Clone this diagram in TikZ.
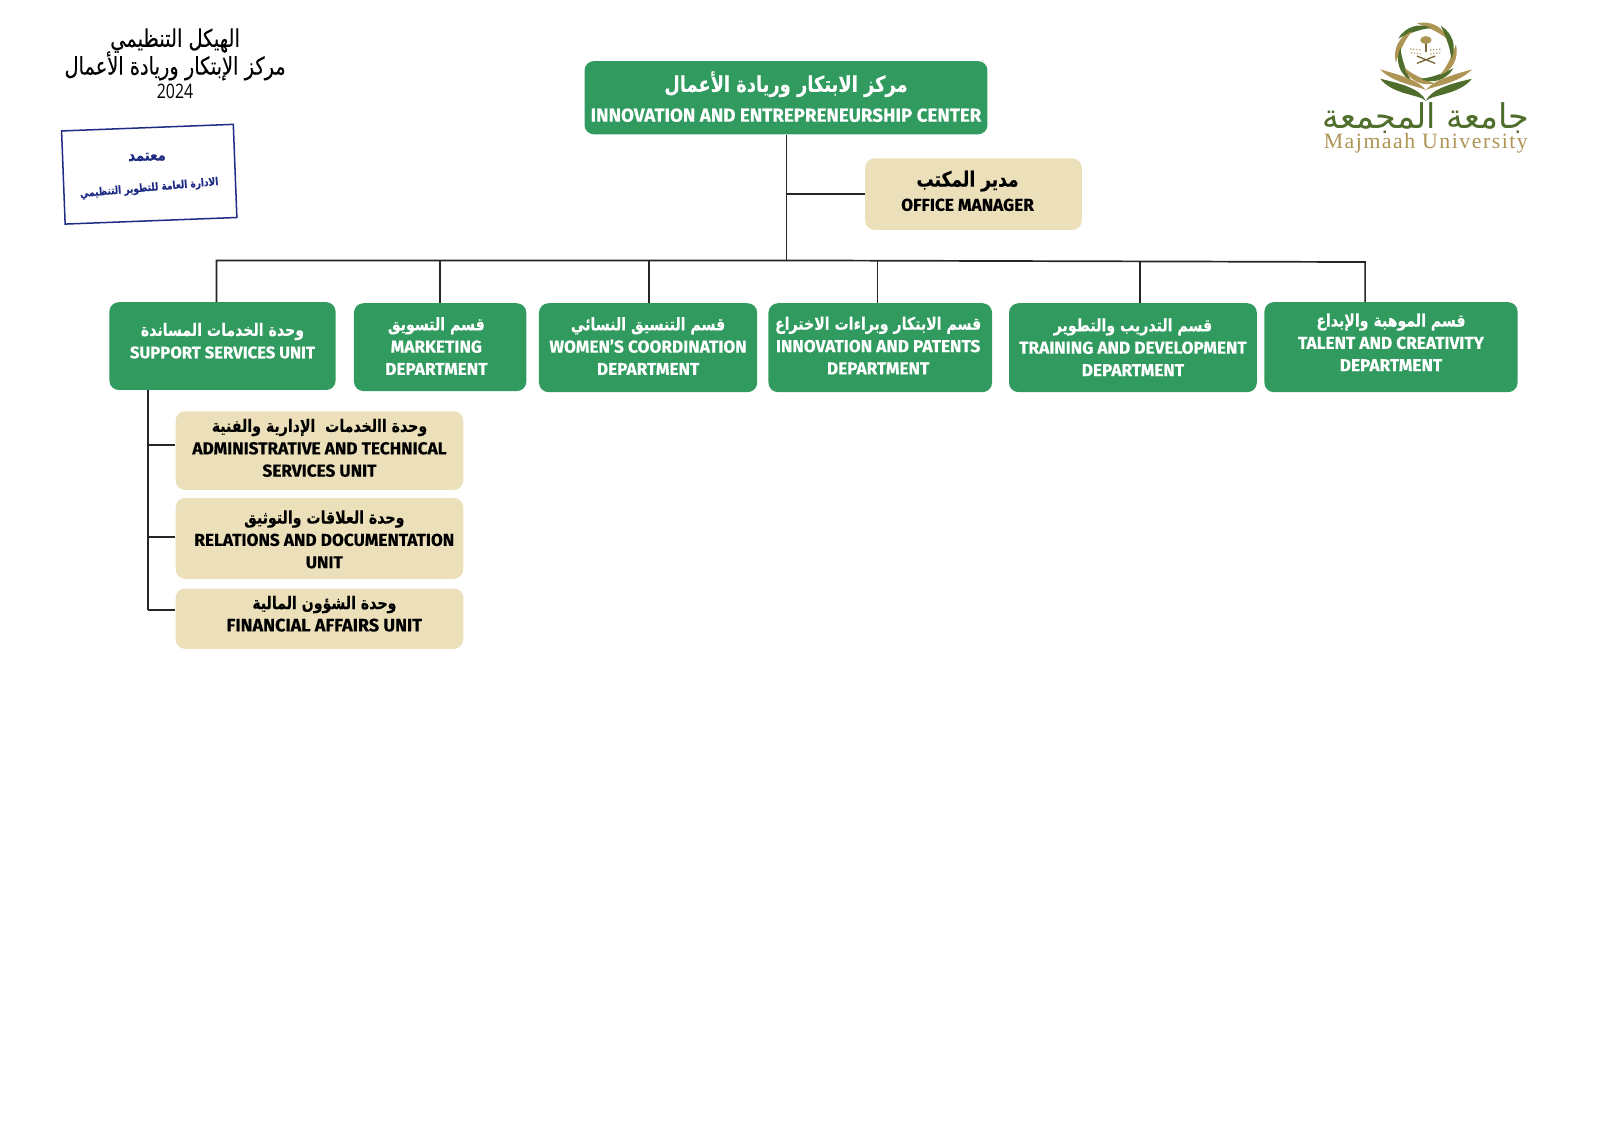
\documentclass[tikz,border=0pt]{standalone}
\usepackage{fontspec}
\usepackage{tikz}
\usetikzlibrary{positioning}
\TeXXeTstate=1
\setmainfont{Fira Sans}[BoldFeatures={FakeBold=0.25}]
\newfontfamily\arabicfont[Script=Arabic,FakeStretch=0.82]{DejaVu Sans}[BoldFeatures={FakeBold=0.2}]
\newfontfamily\arabicthin[Script=Arabic,FakeStretch=0.8,FakeBold=0.15]{DejaVu Sans}
\newfontfamily\logoarabic[Script=Arabic,FakeStretch=0.98]{DejaVu Sans}
\newfontfamily\narrowfont[FakeStretch=0.8]{Open Sans}
\newfontfamily\logoserif[LetterSpace=7]{Liberation Serif}
\newcommand{\ar}[1]{{\arabicfont\bfseries\beginR #1\endR}}
\definecolor{boxgreen}{HTML}{319B5F}
\definecolor{boxsand}{HTML}{EBE0B9}
\definecolor{stampblue}{HTML}{1F2C85}
\definecolor{logogreen}{HTML}{4F6E2C}
\definecolor{logogold}{HTML}{AE9455}
\tikzset{
  greenbox/.style={fill=boxgreen, rounded corners=5pt, inner sep=0pt},
  sandbox/.style={fill=boxsand, rounded corners=5pt, inner sep=0pt},
  greentext/.style={text=white, font=\bfseries\fontsize{9.1}{11.8}\selectfont, align=center, inner sep=0pt},
  sandtext/.style={text=black, font=\bfseries\fontsize{9.1}{11.8}\selectfont, align=center, inner sep=0pt},
  link/.style={line width=0.9pt, draw=black!85},
}
\begin{document}
\begin{tikzpicture}
\useasboundingbox (0,0) rectangle (29.7,20.994);

% title and stamp
\node[align=center, inner sep=0pt] at (3.25,20.24) (title1) {\fontsize{12.8}{14}\selectfont\arabicthin\beginR الهيكل التنظيمي\endR};
\node[align=center, inner sep=0pt] at (3.25,19.77) (title2) {\fontsize{12.8}{14}\selectfont\arabicthin\beginR مركز الإبتكار وريادة الأعمال\endR};
\node[align=center, inner sep=0pt] at (3.25,19.29) (title3) {\fontsize{10.5}{12}\selectfont\narrowfont 2024};

\node[draw=stampblue, line width=0.8pt, rotate=2.2, minimum width=3.19cm, minimum height=1.73cm, inner sep=0pt] at (2.77,17.76) (stamp) {};
\node[text=stampblue, rotate=1, inner sep=0pt] at (2.73,18.08) (stamp1) {\fontsize{8.5}{9}\selectfont\ar{معتمد}};
\node[text=stampblue, rotate=5, inner sep=0pt] at (2.77,17.50) (stamp2) {\fontsize{5.8}{6}\selectfont\ar{الادارة العامة للتطوير التنظيمي}};

% boxes
\node[greenbox, minimum width=7.48cm, minimum height=1.36cm] at (14.59,19.18) (center) {};
\node[sandbox, minimum width=4.02cm, minimum height=1.33cm] at (18.07,17.39) (office) {};
\node[greenbox, minimum width=4.20cm, minimum height=1.63cm] at (4.13,14.57) (support) {};
\node[greenbox, minimum width=3.20cm, minimum height=1.63cm] at (8.17,14.55) (marketing) {};
\node[greenbox, minimum width=4.05cm, minimum height=1.65cm] at (12.03,14.54) (women) {};
\node[greenbox, minimum width=4.15cm, minimum height=1.65cm] at (16.34,14.54) (patents) {};
\node[greenbox, minimum width=4.60cm, minimum height=1.65cm] at (21.03,14.54) (training) {};
\node[greenbox, minimum width=4.70cm, minimum height=1.67cm] at (25.82,14.55) (talent) {};
\node[sandbox, minimum width=5.34cm, minimum height=1.46cm] at (5.93,12.63) (admin) {};
\node[sandbox, minimum width=5.34cm, minimum height=1.50cm] at (5.93,11.00) (relations) {};
\node[sandbox, minimum width=5.34cm, minimum height=1.12cm] at (5.93,9.51) (financial) {};

% box texts
\node[greentext] at (14.59,19.20) (centertext) {\fontsize{11.5}{16}\selectfont\ar{مركز الابتكار وريادة الأعمال}\\[4pt]\fontsize{9.9}{12}\selectfont INNOVATION AND ENTREPRENEURSHIP CENTER};
\node[sandtext] at (17.96,17.45) (officetext) {\fontsize{11}{14}\selectfont\ar{مدير المكتب}\\[1pt]\fontsize{9.1}{12}\selectfont OFFICE MANAGER};
\node[greentext] at (4.13,14.67) (supporttext) {\ar{وحدة الخدمات المساندة}\\\fontsize{8.8}{11.8}\selectfont SUPPORT SERVICES UNIT};
\node[greentext] at (8.10,14.57) (marketingtext) {\ar{قسم التسويق}\\MARKETING\\DEPARTMENT};
\node[greentext] at (12.03,14.57) (womentext) {\ar{قسم التنسيق النسائي}\\WOMEN'S COORDINATION\\DEPARTMENT};
\node[greentext] at (16.30,14.58) (patentstext) {\ar{قسم الابتكار وبراءات الاختراع}\\INNOVATION AND PATENTS\\DEPARTMENT};
\node[greentext] at (21.03,14.55) (trainingtext) {\ar{قسم التدريب والتطوير}\\TRAINING AND DEVELOPMENT\\DEPARTMENT};
\node[greentext] at (25.82,14.64) (talenttext) {\ar{قسم الموهبة والإبداع}\\TALENT AND CREATIVITY\\DEPARTMENT};
\node[sandtext] at (5.93,12.68) (admintext) {\ar{وحدة االخدمات~ الإدارية والفنية}\\ADMINISTRATIVE AND TECHNICAL\\SERVICES UNIT};
\node[sandtext] at (6.02,10.98) (relationstext) {\ar{وحدة العلاقات والتوثيق}\\RELATIONS AND DOCUMENTATION\\UNIT};
\node[sandtext] at (6.02,9.60) (financialtext) {\ar{وحدة الشؤون المالية}\\\fontsize{9.5}{11.8}\selectfont FINANCIAL AFFAIRS UNIT};

% connectors
\coordinate (busleft) at (4.02,16.16);
\coordinate (busmid) at (14.60,16.16);
\coordinate (busright) at (25.34,16.13);
\coordinate (dropmarketing) at (8.17,16.15);
\coordinate (dropwomen) at (12.05,16.15);
\coordinate (droppatents) at (16.29,16.15);
\coordinate (droptraining) at (21.16,16.15);
\coordinate (subtop) at (2.75,13.76);
\coordinate (subadmin) at (2.75,12.74);
\coordinate (subrelations) at (2.75,11.03);
\coordinate (subfinancial) at (2.75,9.67);

\draw[link] (center.south -| busmid) -- (busmid);
\draw[link] (busmid |- office) -- (office.west);
\draw[link] (support.north -| busleft) -- (busleft) -- (busmid) -- (busright) -- (talent.north -| busright);
\draw[link] (dropmarketing) -- (dropmarketing |- marketing.north);
\draw[link] (dropwomen) -- (dropwomen |- women.north);
\draw[link] (droppatents) -- (droppatents |- patents.north);
\draw[link] (droptraining) -- (droptraining |- training.north);
\draw[link] (subtop) -- (subfinancial);
\draw[link] (subadmin) -- (subadmin -| admin.west);
\draw[link] (subrelations) -- (subrelations -| relations.west);
\draw[link] (subfinancial) -- (subfinancial -| financial.west);

% logo
\begin{scope}[shift={(23.203,20.994)}, x=0.0061875cm, y=-0.0061875cm]
\foreach \a/\c in {0/logogold,45/logogreen,90/logogold,135/logogreen,180/logogold,225/logogreen,270/logogold,315/logogreen}
  \fill[\c, rotate around={\a:(527,160)}] (500,70) .. controls (540,60) and (580,80) .. (592,118) .. controls (572,100) and (540,84) .. (500,70) -- cycle;
\fill[logogold] (390,208) .. controls (450,225) and (505,240) .. (527,270) .. controls (505,258) and (430,250) .. (390,208) -- cycle;
\fill[logogold] (665,208) .. controls (605,225) and (550,240) .. (527,270) .. controls (550,258) and (625,250) .. (665,208) -- cycle;
\fill[logogreen] (390,236) .. controls (450,250) and (510,265) .. (527,302) .. controls (505,282) and (430,285) .. (390,236) -- cycle;
\fill[logogreen] (665,236) .. controls (605,250) and (545,265) .. (527,302) .. controls (550,282) and (625,285) .. (665,236) -- cycle;
\fill[logogold!70!black] (524,125) rectangle (530,155);
\fill[logogold] (527,120) ellipse (17 and 12);
\draw[logogold, densely dotted, line width=0.6pt] (480,147) -- (515,150) (540,150) -- (575,147) (482,158) -- (515,162) (540,162) -- (573,158);
\draw[logogold!70!black, line width=0.7pt] (500,190) -- (555,168) (555,190) -- (500,168);
\node[text=logogreen, inner sep=0pt] at (527,354) (logoar) {\fontsize{18}{22}\selectfont\logoarabic\beginR جامعة المجمعة\endR};
\node[text=logogold, inner sep=0pt] at (527,430) (logoen) {\fontsize{11.5}{14}\selectfont\logoserif Majmaah University};
\end{scope}
\end{tikzpicture}
\end{document}
